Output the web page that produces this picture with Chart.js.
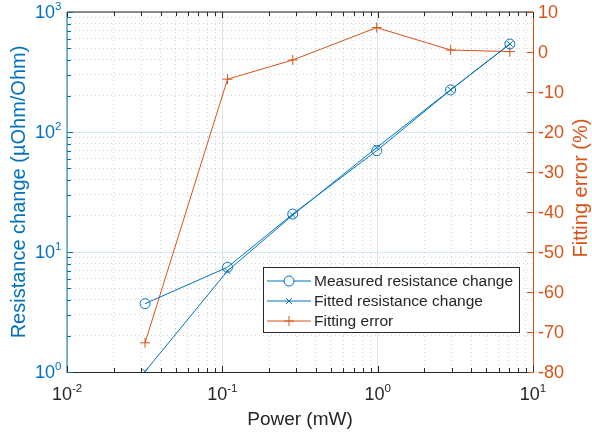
<!DOCTYPE html>
<html lang="en">
<head>
<meta charset="utf-8">
<title>Resistance change vs power</title>
<script src="https://cdn.jsdelivr.net/npm/chart.js"></script>
<style>
  html, body { margin: 0; padding: 0; background: #fff; }
  canvas { display: block; }
</style>
</head>
<body>
<canvas id="myChart" width="592" height="439"></canvas>
<script>
// measurement data
const power = [0.0318, 0.108, 0.284, 0.986, 2.95, 7.1];          // mW
const measured = [3.71, 7.46, 20.7, 69.9, 224, 541];            // uOhm/Ohm
const fitted = [1.01, 6.95, 20.3, 74.2, 225, 541];              // uOhm/Ohm
const fitError = [-72.7, -6.8, -2.0, 6.1, 0.5, 0.1];            // %

// axis ranges / tick labels
const xDecades = [0.01, 0.1, 1, 10];
const yDecades = [1, 10, 100, 1000];
const errTicks = [-80, -70, -60, -50, -40, -30, -20, -10, 0, 10];

const BLUE = '#0072BD';
const ORANGE = '#D95319';
const DARK = '#262626';
const FONT = '"Liberation Sans", Arial, Helvetica, sans-serif';

const isMajor = v => Math.abs(Math.log10(v) - Math.round(Math.log10(v))) < 1e-9;

// 1..9 x 10^n ticks between the first and last decade
function logTicks(decades) {
  const out = [];
  for (let i = 0; i < decades.length - 1; i++) {
    for (let k = 1; k < 10; k++) out.push(k * decades[i]);
  }
  out.push(decades[decades.length - 1]);
  return out.map(v => ({ value: v, major: isMajor(v) }));
}

function seg(ctx, x1, y1, x2, y2) {
  ctx.beginPath();
  ctx.moveTo(x1, y1);
  ctx.lineTo(x2, y2);
  ctx.stroke();
}

// "10" with a raised exponent; anchor is the base text baseline
function powLabel(ctx, exp, x, y, align) {
  ctx.font = '18px ' + FONT;
  const wb = ctx.measureText('10').width;
  ctx.font = '11.5px ' + FONT;
  const we = ctx.measureText(String(exp)).width;
  const total = wb + we;
  let x0 = align === 'right' ? x - total : x - total / 2;
  ctx.textAlign = 'left';
  ctx.textBaseline = 'alphabetic';
  ctx.font = '18px ' + FONT;
  ctx.fillText('10', x0, y);
  ctx.font = '11.5px ' + FONT;
  ctx.fillText(String(exp), x0 + wb, y - 8);
}

const axesPlugin = {
  id: 'axesPlugin',
  afterDatasetsDraw(chart) {
    const { ctx, chartArea: a, scales } = chart;
    const { x, y, y2 } = scales;
    ctx.save();
    ctx.lineWidth = 1;

    // box / axis lines
    ctx.strokeStyle = DARK;
    seg(ctx, a.left, a.top, a.right, a.top);
    seg(ctx, a.left, a.bottom + 0.5, a.right, a.bottom + 0.5);
    ctx.strokeStyle = BLUE;
    seg(ctx, a.left, a.top, a.left, a.bottom + 1);
    ctx.strokeStyle = ORANGE;
    seg(ctx, a.right + 0.5, a.top, a.right + 0.5, a.bottom + 1);

    // inward tick marks
    ctx.strokeStyle = DARK;
    x.ticks.forEach(t => {
      const px = Math.round(x.getPixelForValue(t.value)) + 0.5;
      const len = t.major ? 6 : 4;
      seg(ctx, px, a.bottom, px, a.bottom - len);
      seg(ctx, px, a.top, px, a.top + len);
    });
    ctx.strokeStyle = BLUE;
    y.ticks.forEach(t => {
      const py = Math.round(y.getPixelForValue(t.value)) + 0.5;
      const len = t.major ? 6 : 4;
      seg(ctx, a.left, py, a.left + len, py);
    });
    ctx.strokeStyle = ORANGE;
    y2.ticks.forEach(t => {
      const py = Math.round(y2.getPixelForValue(t.value)) + 0.5;
      seg(ctx, a.right, py, a.right - 6, py);
    });

    // tick labels
    ctx.fillStyle = DARK;
    xDecades.forEach(v => {
      powLabel(ctx, Math.round(Math.log10(v)), x.getPixelForValue(v), a.bottom + 28, 'center');
    });
    ctx.fillStyle = BLUE;
    yDecades.forEach(v => {
      powLabel(ctx, Math.round(Math.log10(v)), 61.5, y.getPixelForValue(v) + 6, 'right');
    });
    ctx.fillStyle = ORANGE;
    ctx.font = '18px ' + FONT;
    ctx.textAlign = 'left';
    ctx.textBaseline = 'alphabetic';
    errTicks.forEach(v => {
      ctx.fillText(String(v), a.right + 5, y2.getPixelForValue(v) + 6);
    });

    // axis titles
    ctx.fillStyle = DARK;
    ctx.font = '19px ' + FONT;
    ctx.textAlign = 'center';
    ctx.fillText('Power (mW)', (a.left + a.right) / 2, 425);

    ctx.font = '20px ' + FONT;
    ctx.save();
    ctx.translate(25, (a.top + a.bottom) / 2);
    ctx.rotate(-Math.PI / 2);
    ctx.fillStyle = BLUE;
    ctx.fillText('Resistance change (\u00b5Ohm/Ohm)', 0, 0);
    ctx.restore();

    ctx.save();
    ctx.translate(587, (a.top + a.bottom) / 2 - 4);
    ctx.rotate(-Math.PI / 2);
    ctx.fillStyle = ORANGE;
    ctx.fillText('Fitting error (%)', 0, 0);
    ctx.restore();

    // legend box
    const lx = 263, ly = 267, lw = 256, lh = 65;
    ctx.fillStyle = '#fff';
    ctx.fillRect(lx, ly, lw, lh);
    ctx.strokeStyle = DARK;
    ctx.strokeRect(lx + 0.5, ly + 0.5, lw, lh);
    ctx.font = '15.5px ' + FONT;
    ctx.textAlign = 'left';
    ctx.textBaseline = 'middle';
    chart.data.datasets.forEach((ds, i) => {
      const ry = ly + 14 + i * 20;
      ctx.strokeStyle = ds.borderColor;
      ctx.lineWidth = 1;
      seg(ctx, lx + 4, ry, lx + 48, ry);
      Chart.helpers.drawPoint(ctx, {
        pointStyle: ds.pointStyle, radius: ds.pointRadius, borderWidth: 1, rotation: 0
      }, lx + 26, ry);
      ctx.fillStyle = DARK;
      ctx.fillText(ds.label, lx + 51, ry + 1);
    });
    ctx.restore();
  }
};

const pts = vals => power.map((p, i) => ({ x: p, y: vals[i] }));

new Chart(document.getElementById('myChart').getContext('2d'), {
  type: 'line',
  data: {
    datasets: [{
      label: 'Measured resistance change',
      data: pts(measured),
      yAxisID: 'y',
      borderColor: BLUE,
      borderWidth: 1,
      pointStyle: 'circle',
      pointRadius: 5,
      pointBorderColor: BLUE,
      pointBackgroundColor: 'rgba(0,0,0,0)',
      pointBorderWidth: 1
    }, {
      label: 'Fitted resistance change',
      data: pts(fitted),
      yAxisID: 'y',
      borderColor: BLUE,
      borderWidth: 1,
      pointStyle: 'crossRot',
      pointRadius: 4,
      pointBorderColor: BLUE,
      pointBorderWidth: 1
    }, {
      label: 'Fitting error',
      data: pts(fitError),
      yAxisID: 'y2',
      borderColor: ORANGE,
      borderWidth: 1,
      pointStyle: 'cross',
      pointRadius: 5,
      pointBorderColor: ORANGE,
      pointBorderWidth: 1
    }]
  },
  options: {
    responsive: false,
    animation: false,
    layout: { padding: { top: 12, left: 0, right: 0, bottom: 0 } },
    plugins: { legend: { display: false }, tooltip: { enabled: false } },
    elements: { line: { tension: 0 } },
    scales: {
      x: {
        type: 'logarithmic',
        min: 0.01,
        max: 10,
        ticks: { display: false, autoSkip: false },
        afterBuildTicks: s => { s.ticks = logTicks(xDecades); },
        afterFit: s => { s.height = 67; },
        border: { display: false, dash: c => (c.tick && c.tick.major ? [] : [1, 3]) },
        grid: {
          drawTicks: false,
          color: c => (c.tick && c.tick.major ? 'rgba(38,38,38,0.13)' : 'rgba(38,38,38,0.2)')
        }
      },
      y: {
        type: 'logarithmic',
        position: 'left',
        min: 1,
        max: 1000,
        ticks: { display: false, autoSkip: false },
        afterBuildTicks: s => { s.ticks = logTicks(yDecades); },
        afterFit: s => { s.width = 67; },
        border: { display: false, dash: c => (c.tick && c.tick.major ? [] : [1, 3]) },
        grid: {
          drawTicks: false,
          color: c => (c.tick && c.tick.major ? 'rgba(0,114,189,0.15)' : 'rgba(38,38,38,0.2)')
        }
      },
      y2: {
        type: 'linear',
        position: 'right',
        min: -80,
        max: 10,
        ticks: { display: false, autoSkip: false },
        afterBuildTicks: s => { s.ticks = errTicks.map(v => ({ value: v })); },
        afterFit: s => { s.width = 59; },
        border: { display: false },
        grid: { drawOnChartArea: false, drawTicks: false }
      }
    }
  },
  plugins: [axesPlugin]
});
</script>
</body>
</html>
